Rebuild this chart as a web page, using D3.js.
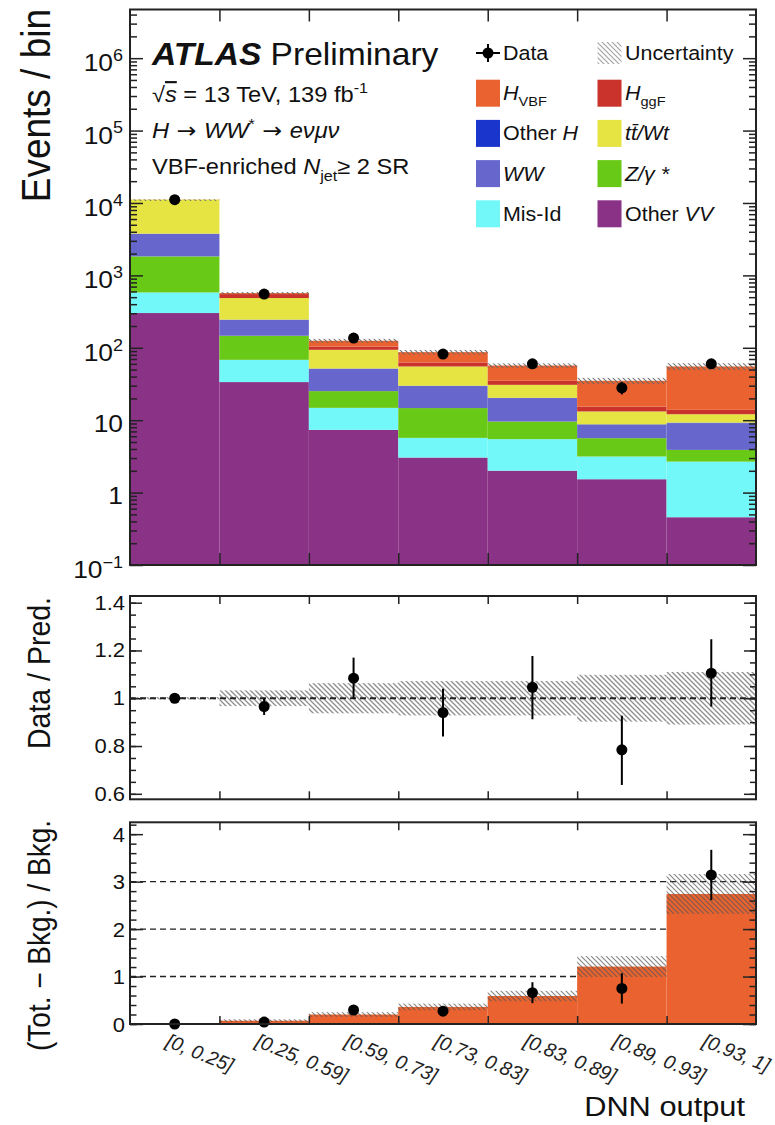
<!DOCTYPE html>
<html><head><meta charset="utf-8">
<script src="https://cdn.jsdelivr.net/npm/d3@7"></script>
<style>
body{margin:0;background:#fff;}
svg{display:block;font-family:"Liberation Sans",Arial,Helvetica,sans-serif;}
</style></head><body>
<svg id="c" width="775" height="1125"></svg>
<script>
// ---------------- DATA ----------------
const bins = ["[0, 0.25]","[0.25, 0.59]","[0.59, 0.73]","[0.73, 0.83]","[0.83, 0.89]","[0.89, 0.93]","[0.93, 1]"];
// stacked components (bottom to top)
const otherVV = [302, 33.6, 7.36, 3.05, 2.01, 1.53, 0.457];
const misId   = [279, 34.6, 7.44, 2.65, 3.46, 1.62, 2.22];
const zgamma  = [1247, 78.4, 10.4, 9.0, 4.11, 2.5, 1.21];
const ww      = [1939, 97.4, 26.1, 14.9, 10.6, 2.95, 5.21];
const otherH  = [3, 1, 0.4, 0.3, 0.2, 0.15, 0.15];
const ttbarWt = [7350, 241, 42.1, 25.3, 10.4, 4.45, 2.85];
const hggF    = [20, 66, 10.2, 7.5, 4.2, 2.2, 1.8];
const hVBF    = [6, 18, 21, 24.4, 21.9, 19.6, 41.3];
const dataEvents = [11100, 552, 136, 82, 60, 28, 60];
const dataErr    = [105, 23.5, 11.7, 9.1, 7.7, 5.3, 7.7];
const relUnc     = [0.005, 0.033, 0.063, 0.072, 0.072, 0.098, 0.11];
// Data / Pred. panel
const ratio      = [1.0, 0.965, 1.084, 0.94, 1.046, 0.784, 1.105];
const ratioErrLo = [0.009, 0.035, 0.086, 0.10, 0.134, 0.147, 0.14];
const ratioErrHi = [0.009, 0.035, 0.086, 0.10, 0.131, 0.143, 0.142];
// (Tot. - Bkg.) / Bkg. panel
const sigOverBkg = [0.003, 0.07, 0.2, 0.36, 0.59, 1.21, 2.74];
const sigUnc     = [0.005, 0.03, 0.05, 0.07, 0.11, 0.22, 0.42];
const excess     = [0, 0.04, 0.295, 0.27, 0.66, 0.75, 3.14];
const excessErr  = [0.01, 0.04, 0.1, 0.09, 0.22, 0.32, 0.53];
// tick labels
const mainTickExp = [-1, 0, 1, 2, 3, 4, 5, 6];
const ratioTicks  = [0.6, 0.8, 1, 1.2, 1.4];
const ratioTickLabels = ["0.6","0.8","1","1.2","1.4"];
const sbTicks = [0, 1, 2, 3, 4];
const sbTickLabels = ["0","1","2","3","4"];

// ---------------- STYLE ----------------
const keys = ["otherVV","misId","zgamma","ww","otherH","ttbarWt","hggF","hVBF"];
const series = {otherVV, misId, zgamma, ww, otherH, ttbarWt, hggF, hVBF};
const colors = {
  otherVV:"#8a3286", misId:"#72f8f8", zgamma:"#68c916", ww:"#6666cc",
  otherH:"#1a35cc", ttbarWt:"#e6e442", hggF:"#c9332b", hVBF:"#e9622f"
};
const SX = 1.1;
const FONT_TXT = "#111";

const svg = d3.select("#c");
const defs = svg.append("defs");
function hatch(id, color, op, w){
  const p = defs.append("pattern").attr("id", id).attr("patternUnits","userSpaceOnUse")
    .attr("width",5).attr("height",5);
  p.append("path").attr("d","M0,0 L5,5 M-1,4 L1,6 M4,-1 L6,1")
    .attr("stroke",color).attr("stroke-width",w).attr("stroke-opacity",op).attr("fill","none");
}
hatch("hatchMain", "#666", 0.9, 1.1);
hatch("hatchRatio", "#888", 0.95, 1.35);
hatch("hatchLeg", "#999", 0.9, 1.2);
hatch("hatchSB", "#555", 0.7, 1.2);

// ---------------- SCALES ----------------
const X0 = 130, X1 = 756;
const xb = d3.scaleBand().domain(bins).range([X0, X1]).paddingInner(0).paddingOuter(0);
const xe = d3.scaleLinear().domain([0, bins.length]).range([X0, X1]);
const cx = b => xb(b) + xb.bandwidth()/2;

const M = {top: 9.5, bot: 565};
const R = {top: 596, bot: 799.3};
const S = {top: 822.3, bot: 1024};
const yMain = d3.scaleLog().domain([0.1, 4.7e6]).range([M.bot, M.top]);
const yRat  = d3.scaleLinear().domain([0.577, 1.428]).range([R.bot, R.top]);
const ySB   = d3.scaleLinear().domain([0, 4.25]).range([S.bot, S.top]);

// helper rich text
function rich(sel, parts, fs){
  let shift = 0;
  parts.forEach(p => {
    const ts = sel.append("tspan").text(p.t);
    const target = p.sub ? fs*0.32 : (p.sup ? -fs*0.42 : 0);
    ts.attr("dy", target - shift); shift = target;
    if (p.i) ts.attr("font-style","italic");
    if (p.b) ts.attr("font-weight","bold");
    if (p.ov) ts.attr("text-decoration","overline");
    if (p.f) ts.attr("font-family", p.f);
    if (p.sub || p.sup) ts.attr("font-size", fs*0.68);
  });
  return sel;
}
function txt(x, y, fs, anchor){
  return svg.append("text").attr("transform", `translate(${x},${y}) scale(${SX},1)`)
    .attr("font-size", fs).attr("text-anchor", anchor||"start").attr("fill", FONT_TXT);
}

// ---------------- MAIN PANEL ----------------
svg.append("clipPath").attr("id","clipMain").append("rect")
  .attr("x",X0).attr("y",M.top).attr("width",X1-X0).attr("height",M.bot-M.top);
const gMain = svg.append("g").attr("clip-path","url(#clipMain)");
const rows = bins.map((b,i) => { const r = {bin:b}; keys.forEach(k => r[k] = series[k][i]); return r; });
const stacked = d3.stack().keys(keys)(rows);
stacked.forEach(layer => {
  gMain.selectAll(null).data(layer).enter().append("rect")
    .attr("x", d => xb(d.data.bin)).attr("width", xb.bandwidth())
    .attr("y", d => yMain(d[1]))
    .attr("height", d => yMain(Math.max(d[0], 0.1)) - yMain(d[1]))
    .attr("fill", colors[layer.key]);
});
const totals = rows.map(r => keys.reduce((s,k)=>s+r[k],0));
gMain.selectAll(null).data(bins).enter().append("rect")
  .attr("x", b => xb(b)).attr("width", xb.bandwidth())
  .attr("y", (b,i) => yMain(totals[i]*(1+relUnc[i])))
  .attr("height", (b,i) => Math.max(1.5, yMain(totals[i]*(1-relUnc[i])) - yMain(totals[i]*(1+relUnc[i]))))
  .attr("fill","url(#hatchMain)");
// data points
bins.forEach((b,i) => {
  svg.append("line").attr("x1",cx(b)).attr("x2",cx(b))
    .attr("y1", yMain(dataEvents[i]+dataErr[i])).attr("y2", yMain(dataEvents[i]-dataErr[i]))
    .attr("stroke","#000").attr("stroke-width",2);
  svg.append("circle").attr("cx",cx(b)).attr("cy",yMain(dataEvents[i])).attr("r",5.5).attr("fill","#000");
});

// ---------------- RATIO PANEL ----------------
svg.selectAll(null).data(bins).enter().append("rect")
  .attr("x", b => xb(b)).attr("width", xb.bandwidth())
  .attr("y", (b,i) => yRat(1+relUnc[i])).attr("height", (b,i) => yRat(1-relUnc[i]) - yRat(1+relUnc[i]))
  .attr("fill","url(#hatchRatio)");
svg.append("line").attr("x1",X0).attr("x2",X1).attr("y1",yRat(1)).attr("y2",yRat(1))
  .attr("stroke","#222").attr("stroke-width",1.8).attr("stroke-dasharray","6,4");
bins.forEach((b,i) => {
  svg.append("line").attr("x1",cx(b)).attr("x2",cx(b))
    .attr("y1", yRat(ratio[i]+ratioErrHi[i])).attr("y2", yRat(ratio[i]-ratioErrLo[i]))
    .attr("stroke","#000").attr("stroke-width",2);
  svg.append("circle").attr("cx",cx(b)).attr("cy",yRat(ratio[i])).attr("r",5.5).attr("fill","#000");
});

// ---------------- S/B PANEL ----------------
[1,2,3].forEach(v => svg.append("line").attr("x1",X0).attr("x2",X1).attr("y1",ySB(v)).attr("y2",ySB(v))
  .attr("stroke","#222").attr("stroke-width",1.4).attr("stroke-dasharray","6,4"));
svg.selectAll(null).data(bins).enter().append("rect")
  .attr("x", b => xb(b)).attr("width", xb.bandwidth())
  .attr("y", (b,i) => ySB(sigOverBkg[i])).attr("height", (b,i) => ySB(0) - ySB(sigOverBkg[i]))
  .attr("fill", colors.hVBF);
svg.selectAll(null).data(bins).enter().append("rect")
  .attr("x", b => xb(b)).attr("width", xb.bandwidth())
  .attr("y", (b,i) => ySB(sigOverBkg[i]+sigUnc[i]))
  .attr("height", (b,i) => ySB(Math.max(0,sigOverBkg[i]-sigUnc[i])) - ySB(sigOverBkg[i]+sigUnc[i]))
  .attr("fill","url(#hatchSB)");
bins.forEach((b,i) => {
  svg.append("line").attr("x1",cx(b)).attr("x2",cx(b))
    .attr("y1", ySB(excess[i]+excessErr[i])).attr("y2", ySB(Math.max(0,excess[i]-excessErr[i])))
    .attr("stroke","#000").attr("stroke-width",2);
  svg.append("circle").attr("cx",cx(b)).attr("cy",ySB(excess[i])).attr("r",5.5).attr("fill","#000");
});

// ---------------- AXES / FRAMES ----------------
function frame(t, b){
  svg.append("rect").attr("x",X0).attr("y",t).attr("width",X1-X0).attr("height",b-t)
    .attr("fill","none").attr("stroke","#222").attr("stroke-width",2);
}
function cleanAxis(g){ g.select(".domain").remove(); g.selectAll("text").remove(); g.selectAll("line").attr("stroke","#222").attr("stroke-width",1.5); }
const edgeVals = d3.range(1, bins.length);
function edgeTicks(t, b, len){
  svg.append("g").attr("transform",`translate(0,${t})`).call(d3.axisTop(xe).tickValues(edgeVals).tickSize(-len)).call(cleanAxis);
  svg.append("g").attr("transform",`translate(0,${b})`).call(d3.axisBottom(xe).tickValues(edgeVals).tickSize(-len)).call(cleanAxis);
}
function yTicks(scale, major, minor, lmaj, lmin){
  svg.append("g").attr("transform",`translate(${X0},0)`).call(d3.axisLeft(scale).tickValues(minor).tickSize(-lmin)).call(cleanAxis);
  svg.append("g").attr("transform",`translate(${X0},0)`).call(d3.axisLeft(scale).tickValues(major).tickSize(-lmaj)).call(cleanAxis);
  svg.append("g").attr("transform",`translate(${X1},0)`).call(d3.axisRight(scale).tickValues(minor).tickSize(-lmin)).call(cleanAxis);
  svg.append("g").attr("transform",`translate(${X1},0)`).call(d3.axisRight(scale).tickValues(major).tickSize(-lmaj)).call(cleanAxis);
}
// main
const mainMajor = mainTickExp.map(e => Math.pow(10,e));
const mainMinor = [];
mainTickExp.forEach(e => { for (let k=2;k<=9;k++){ const v = k*Math.pow(10,e); if (v < 4.7e6) mainMinor.push(v); } });
yTicks(yMain, mainMajor, mainMinor, 13, 7);
edgeTicks(M.top, M.bot, 12);
frame(M.top, M.bot);
// ratio
const ratMinor = d3.range(0.6, 1.426, 0.05).map(v => +v.toFixed(2));
yTicks(yRat, ratioTicks, ratMinor, 12, 6);
edgeTicks(R.top, R.bot, 8);
frame(R.top, R.bot);
// sb
const sbMinor = d3.range(0, 4.21, 0.2).map(v => +v.toFixed(2));
yTicks(ySB, sbTicks, sbMinor, 13, 6.5);
edgeTicks(S.top, S.bot, 8);
frame(S.top, S.bot);

// tick labels main
mainTickExp.forEach(e => {
  const y = yMain(Math.pow(10,e));
  if (e === 0) txt(123, y+11.5, 24, "end").text("1");
  else if (e === 1) txt(123, y+11.5, 24, "end").text("10");
  else rich(txt(123, y+13, 24, "end"), [{t:"10"},{t:(e<0?"\u2212":"")+Math.abs(e), sup:true}], 24);
});
ratioTicks.forEach((v,i) => txt(125, yRat(v)+7, 20, "end").text(ratioTickLabels[i]));
sbTicks.forEach((v,i) => txt(125, ySB(v)+7.5, 20, "end").text(sbTickLabels[i]));

// x tick labels (rotated, italic)
bins.forEach(b => {
  svg.append("text").attr("transform",`translate(${cx(b)-10},1046) rotate(22)`)
    .attr("font-size",19.5).attr("font-style","italic").attr("fill","#222").text(b);
});

// axis titles
function ytitle(y, fs, s){
  return svg.append("text").attr("transform",`translate(50,${y}) scale(${SX},1) rotate(-90)`)
    .attr("font-size",fs).attr("text-anchor","end").attr("fill",FONT_TXT).text(s);
}
ytitle(9, 37, "Events / bin");
ytitle(597, 28.5, "Data / Pred.");
ytitle(820, 28, "(Tot. \u2212 Bkg.) / Bkg.");
txt(745, 1116, 28, "end").text("DNN output");

// ---------------- HEADER ----------------
const ARW = "DejaVu Sans";
rich(txt(152, 65, 30.5), [{t:"ATLAS", b:true, i:true},{t:" Preliminary"}], 30.5);
rich(txt(152, 102, 21.5), [{t:"\u221A"},{t:"s", i:true, ov:true},{t:" = 13 TeV, 139 fb"},{t:"-1", sup:true}], 21.5);
rich(txt(152, 138, 21.5), [{t:"H", i:true},{t:" \u2192 ", f:ARW},{t:"WW", i:true},{t:"*", sup:true},{t:" \u2192 ", f:ARW},{t:"e\u03BD\u03BC\u03BD", i:true}], 21.5);
rich(txt(152, 174, 21.5), [{t:"VBF-enriched "},{t:"N", i:true},{t:"jet", sub:true},{t:"\u2265 2 SR"}], 21.5);

// ---------------- LEGEND ----------------
const legL = [
  {k:"data", parts:[{t:"Data"}]},
  {k:"hVBF", parts:[{t:"H", i:true},{t:"VBF", sub:true}]},
  {k:"otherH", parts:[{t:"Other "},{t:"H", i:true}]},
  {k:"ww", parts:[{t:"WW", i:true}]},
  {k:"misId", parts:[{t:"Mis-Id"}]}
];
const legR = [
  {k:"unc", parts:[{t:"Uncertainty"}]},
  {k:"hggF", parts:[{t:"H", i:true},{t:"ggF", sub:true}]},
  {k:"ttbarWt", parts:[{t:"tt\u0304/Wt", i:true}]},
  {k:"zgamma", parts:[{t:"Z/\u03B3 *", i:true}]},
  {k:"otherVV", parts:[{t:"Other "},{t:"VV", i:true}]}
];
function legendCol(list, bx, tx){
  list.forEach((e,i) => {
    const yc = 53 + 40.2*i;
    if (e.k === "data"){
      svg.append("line").attr("x1",bx).attr("x2",bx+24).attr("y1",yc).attr("y2",yc).attr("stroke","#000").attr("stroke-width",2);
      svg.append("line").attr("x1",bx+12).attr("x2",bx+12).attr("y1",yc-9).attr("y2",yc+9).attr("stroke","#000").attr("stroke-width",2);
      svg.append("circle").attr("cx",bx+12).attr("cy",yc).attr("r",5.5).attr("fill","#000");
    } else if (e.k === "unc"){
      svg.append("rect").attr("x",bx).attr("y",yc-11).attr("width",24).attr("height",22).attr("fill","url(#hatchLeg)");
    } else {
      svg.append("rect").attr("x",bx).attr("y",yc-13.5).attr("width",24).attr("height",27).attr("fill",colors[e.k]);
    }
    rich(txt(tx, yc+7, 19.5), e.parts, 19.5);
  });
}
legendCol(legL, 476, 503);
legendCol(legR, 597.5, 625);
</script>
</body></html>
